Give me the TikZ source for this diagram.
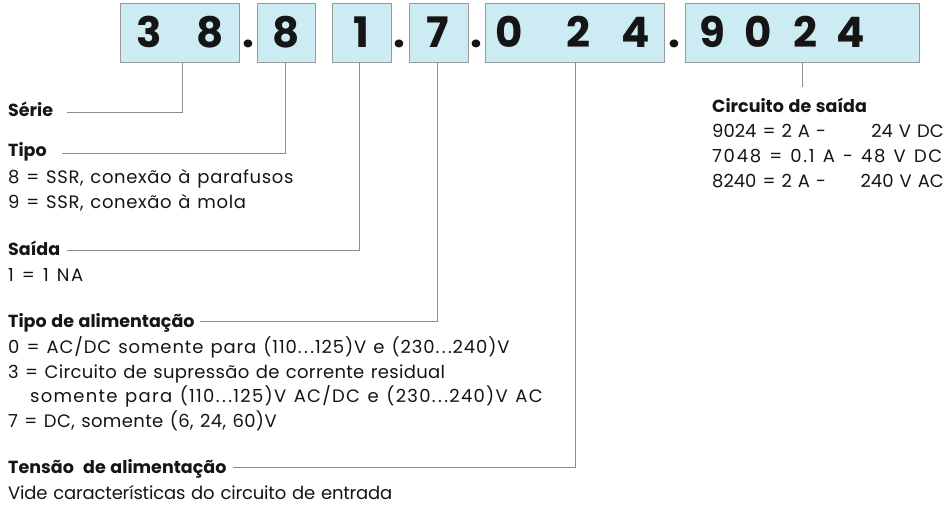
\documentclass[tikz,border=0pt]{standalone}
\usepackage{fontspec}
\setmainfont{Poppins}[WordSpace=1.25]
\definecolor{boxfill}{HTML}{CDEBF2}
\definecolor{boxgray}{HTML}{9A9A9A}
\definecolor{linegray}{HTML}{8C8C8C}
\definecolor{ink}{HTML}{151515}
\newcommand\dd{.\kern2.5pt.\kern2.5pt.}
\newcommand\lsp[2]{{\addfontfeatures{LetterSpace=#1}#2}}
\begin{document}
\begin{tikzpicture}[x=1pt,y=-1pt,
  codebox/.style={draw=boxgray, fill=boxfill, line width=1pt, inner sep=0pt, outer sep=0pt, anchor=north west, minimum height=59pt},
  digit/.style={font=\fontsize{42}{42}\bfseries\selectfont, anchor=base, inner sep=0pt, text=ink},
  lbl/.style={anchor=base west, inner sep=0pt, font=\fontsize{18}{18}\selectfont, text=ink},
  rlbl/.style={anchor=base east, inner sep=0pt, font=\fontsize{18}{18}\selectfont, text=ink},
  hdr/.style={anchor=base west, inner sep=0pt, font=\fontsize{17.5}{18}\bfseries\selectfont, text=ink},
  conn/.style={draw=linegray, line width=0.9pt}]
\useasboundingbox (0,0) rectangle (945,513);

% code boxes
\node[codebox, minimum width=119pt] (b1) at (120,4) {};
\node[codebox, minimum width=58pt]  (b2) at (257,4) {};
\node[codebox, minimum width=59pt]  (b3) at (332,4) {};
\node[codebox, minimum width=59pt]  (b4) at (409,4) {};
\node[codebox, minimum width=179pt] (b5) at (485,4) {};
\node[codebox, minimum width=234pt] (b6) at (685,4) {};

% digits
\node[digit] (d1) at (149,48) {3};
\node[digit] (d2) at (210,48) {8};
\node[digit] (p1) at (248,48) {.};
\node[digit] (d3) at (286,48) {8};
\node[digit] (d4) at (361,48) {1};
\node[digit] (p2) at (399,48) {.};
\node[digit] (d5) at (438,48) {7};
\node[digit] (p3) at (476,48) {.};
\node[digit] (d6) at (509,48) {0};
\node[digit] (d7) at (578,48) {2};
\node[digit] (d8) at (636,48) {4};
\node[digit] (p4) at (674,48) {.};
\node[digit] (d9) at (712,48) {9};
\node[digit] (d10) at (758,48) {0};
\node[digit] (d11) at (805,48) {2};
\node[digit] (d12) at (851,48) {4};

% left labels
\node[hdr] (serie) at (8,117) {Série};
\node[hdr] (tipo) at (8,157) {Tipo};
\node[lbl] (t8) at (8,184) {\lsp{3.5}{8 = SSR, conexão à parafusos}};
\node[lbl] (t9) at (8,209) {\lsp{3.5}{9 = SSR, conexão à mola}};
\node[hdr] (saida) at (8,255) {Saída};
\node[lbl] (s1) at (8,281) {\lsp{9}{1 = 1 NA}};
\node[hdr] (alim) at (8,327) {Tipo de alimentação};
\node[lbl] (a0) at (8,353) {\lsp{4.8}{0 = AC/DC somente para (110\dd125)V e (230\dd240)V}};
\node[lbl] (a3) at (8,378) {\lsp{1.8}{3 = Circuito de supressão de corrente residual}};
\node[lbl] (a3b) at (30,402) {\lsp{7}{somente para (110\dd125)V AC/DC e (230\dd240)V AC}};
\node[lbl] (a7) at (8,427) {\lsp{2}{7 = DC, somente (6, 24, 60)V}};
\node[hdr] (tens) at (8,473) {Tensão\ \ de alimentação};
\node[lbl] (vide) at (8,499) {\lsp{-1}{Vide características do circuito de entrada}};

% right labels
\node[hdr] (circ) at (712,113) {Circuito de saída};
\node[lbl] (c1) at (712,138) {9024 = 2 A -};
\node[rlbl] (c1r) at (944,138) {24 V DC};
\node[lbl] (c2) at (712,163) {\lsp{9.5}{7048 = 0.1 A - 48 V DC}};
\node[lbl] (c3) at (712,188) {8240 = 2 A -};
\node[rlbl] (c3r) at (944,188) {240 V AC};

% connector end points
\coordinate (k1) at (182,0);
\coordinate (k2) at (285,0);
\coordinate (k3) at (359,0);
\coordinate (k4) at (437,0);
\coordinate (k5) at (575,0);
\coordinate (k6) at (802,0);
\coordinate (e1) at (67,112);
\coordinate (e2) at (62,153);
\coordinate (e3) at (67,250);
\coordinate (e4) at (200,321);
\coordinate (e5) at (233,467);
\coordinate (e6) at (802,87);

\draw[conn] (b1.south -| k1) |- (e1);
\draw[conn] (b2.south -| k2) |- (e2);
\draw[conn] (b3.south -| k3) |- (e3);
\draw[conn] (b4.south -| k4) |- (e4);
\draw[conn] (b5.south -| k5) |- (e5);
\draw[conn] (b6.south -| k6) -- (e6);
\end{tikzpicture}
\end{document}
